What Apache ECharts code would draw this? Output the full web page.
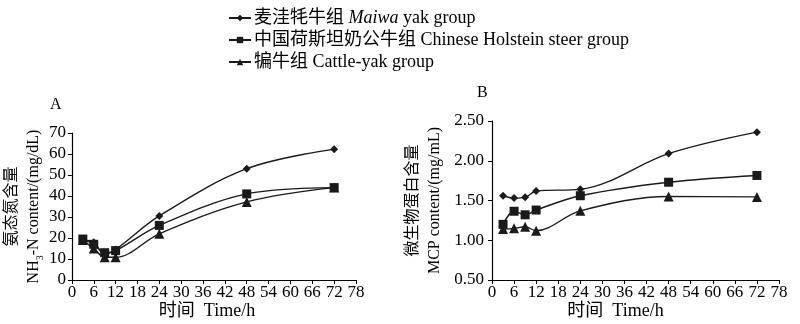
<!DOCTYPE html>
<html><head><meta charset="utf-8">
<script src="https://cdn.jsdelivr.net/npm/echarts@6/dist/echarts.min.js"></script>
<style>html,body{margin:0;padding:0;background:#fff}#c{width:800px;height:324px}</style>
</head><body><div id="c"></div>
<script>
const hours = [3, 6, 9, 12, 24, 48, 72];
const xTicks = [0, 6, 12, 18, 24, 30, 36, 42, 48, 54, 60, 66, 72, 78];
const seriesNames = ['麦洼牦牛组 Maiwa yak group', '中国荷斯坦奶公牛组 Chinese Holstein steer group', '犏牛组 Cattle-yak group'];
// Panel A: NH3-N content (mg/dL)
const nh3Maiwa    = [19, 18, 12, 14.5, 30.5, 53, 62.3];
const nh3Holstein = [19.5, 17, 13, 14, 26, 41, 44];
const nh3Cattle   = [19, 15, 10.8, 10.8, 22, 37.2, 44];
// Panel B: MCP content (mg/mL)
const mcpMaiwa    = [1.56, 1.53, 1.54, 1.62, 1.64, 2.09, 2.36];
const mcpHolstein = [1.20, 1.365, 1.32, 1.38, 1.56, 1.73, 1.815];
const mcpCattle   = [1.14, 1.15, 1.17, 1.12, 1.37, 1.55, 1.545];

const FONT = "'Liberation Serif', 'Noto Sans CJK SC', serif";
const symbols = ['diamond', 'rect', 'triangle'];
const symSizes = [8, 9, 10];
const ink = '#1a1a1a';

function mkSeries(name, idx, vals, axis) {
  return {
    name: name, type: 'line', xAxisIndex: axis, yAxisIndex: axis,
    data: hours.map((h, i) => [h, vals[i]]),
    smooth: 0.35, symbol: symbols[idx], symbolSize: symSizes[idx],
    lineStyle: { color: ink, width: 1.4 },
    itemStyle: { color: ink },
    z: 3 - idx
  };
}

function xAxisCfg(grid, pad) {
  return {
    type: 'value', gridIndex: grid, min: 0, max: 78, interval: 6,
    name: '时间  Time/h', nameLocation: 'middle', nameGap: 21,
    nameTextStyle: { fontFamily: FONT, fontSize: 18, color: '#000', padding: [0, pad, 0, 0] },
    axisLine: { show: true, lineStyle: { color: '#000', width: 1.2 } },
    axisTick: { show: true, length: 4, lineStyle: { color: '#000' } },
    axisLabel: { fontFamily: FONT, fontSize: 17, color: '#000', margin: 4,
      formatter: v => xTicks.includes(v) ? String(v) : '' },
    splitLine: { show: false }
  };
}

const chart = echarts.init(document.getElementById('c'));
chart.setOption({
  backgroundColor: '#fff',
  animation: false,
  title: [
    { text: 'A', left: 45, top: 92, textStyle: { fontFamily: FONT, fontSize: 16, fontWeight: 'normal', color: '#000' } },
    { text: 'B', left: 472, top: 80, textStyle: { fontFamily: FONT, fontSize: 16, fontWeight: 'normal', color: '#000' } }
  ],
  legend: {
    orient: 'vertical', left: 223, top: 4, itemGap: 4, itemWidth: 22, itemHeight: 8,
    data: seriesNames,
    textStyle: { fontFamily: FONT, fontSize: 18, color: '#000', padding: [0, 0, 0, -2],
      rich: { it: { fontFamily: FONT, fontSize: 18, fontStyle: 'italic', color: '#000' } } },
    formatter: function (n) { return n.replace('Maiwa', '{it|Maiwa}'); }
  },
  grid: [
    { left: 67, top: 133, width: 289, height: 147 },
    { left: 492, top: 121, width: 287, height: 159 }
  ],
  xAxis: [xAxisCfg(0, 14), xAxisCfg(1, 40)],
  yAxis: [
    {
      type: 'value', gridIndex: 0, min: 0, max: 70, interval: 10,
      name: '氨态氮含量\nNH{sub|3}-N content/(mg/dL)', nameLocation: 'middle', nameGap: 24, nameRotate: 90,
      nameTextStyle: { fontFamily: FONT, fontSize: 16, color: '#000', lineHeight: 22,
        rich: { sub: { fontFamily: FONT, fontSize: 10, color: '#000', verticalAlign: 'bottom', padding: [6, 0, 0, 0] } } },
      axisLine: { show: true, lineStyle: { color: '#000', width: 1.2 } },
      axisTick: { show: true, length: 4, lineStyle: { color: '#000' } },
      axisLabel: { fontFamily: FONT, fontSize: 17, color: '#000', margin: 6 },
      splitLine: { show: false }
    },
    {
      type: 'value', gridIndex: 1, min: 0.5, max: 2.5, interval: 0.5,
      name: '微生物蛋白含量\nMCP content/(mg/mL)', nameLocation: 'middle', nameGap: 46, nameRotate: 90,
      nameTextStyle: { fontFamily: FONT, fontSize: 16, color: '#000', lineHeight: 22 },
      axisLine: { show: true, lineStyle: { color: '#000', width: 1.2 } },
      axisTick: { show: true, length: 4, lineStyle: { color: '#000' } },
      axisLabel: { fontFamily: FONT, fontSize: 17, color: '#000', margin: 8, formatter: v => v.toFixed(2) },
      splitLine: { show: false }
    }
  ],
  series: [
    mkSeries(seriesNames[0], 0, nh3Maiwa, 0),
    mkSeries(seriesNames[1], 1, nh3Holstein, 0),
    mkSeries(seriesNames[2], 2, nh3Cattle, 0),
    mkSeries(seriesNames[0], 0, mcpMaiwa, 1),
    mkSeries(seriesNames[1], 1, mcpHolstein, 1),
    mkSeries(seriesNames[2], 2, mcpCattle, 1)
  ]
});
</script></body></html>
